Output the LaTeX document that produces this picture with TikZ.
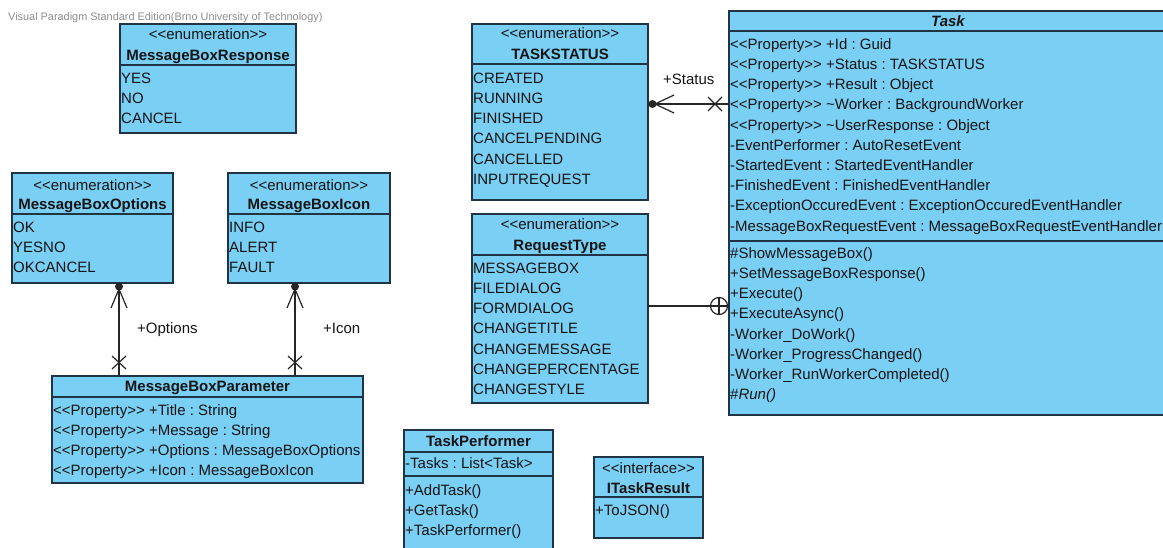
\documentclass[tikz,border=0pt]{standalone}
\usepackage{fontspec}
\newfontfamily\umlfont{Liberation Sans}
\definecolor{umlfill}{RGB}{122,207,245}
\definecolor{umlline}{RGB}{32,52,70}
\definecolor{wmgray}{RGB}{140,140,140}
\frenchspacing

\tikzset{
  clsbox/.style={draw=umlline, fill=umlfill, line width=1.3pt, inner sep=0pt, outer sep=0pt, anchor=north west},
  sepline/.style={draw=umlline, line width=1.3pt},
  item/.style={anchor=base west, inner sep=0pt, text=black!92, font=\umlfont\fontsize{15}{17}\selectfont},
  stereo/.style={anchor=base, inner sep=0pt, text=black!92, font=\umlfont\fontsize{15}{17}\selectfont},
  cname/.style={anchor=base, inner sep=0pt, text=black!92, font=\umlfont\bfseries\fontsize{15}{17}\selectfont},
  assoc/.style={draw=black!85, line width=1.2pt},
  rolelabel/.style={anchor=base west, inner sep=0pt, text=black!92, font=\umlfont\fontsize{15}{17}\selectfont},
}

% class frame: name, x, y (top left), width, height
\newcommand\umlclass[5]{\node[clsbox, minimum width=#4pt, minimum height=#5pt] (#1) at (#2,#3) {};}
% compartment separator at row y
\newcommand\umlsep[2]{\draw[sepline] (#1.west |- 0,#2) -- (#1.east |- 0,#2);}
% list of rows: class name, left x, centre y of first row, rows
\newcommand\umlitems[4]{%
  \foreach \lbl [count=\k] in {#4}{\node[item] (#1-\k) at (#2, {#3+5.3+20.2*(\k-1)}) {\lbl};}}

\begin{document}
\begin{tikzpicture}[x=1pt, y=-1pt]
\useasboundingbox (0,0) rectangle (1163,547);
\clip (0,0) rectangle (1163,547);

\node[anchor=base west, inner sep=0pt, text=wmgray, font=\umlfont\fontsize{10.9}{12}\selectfont] (wm) at (8,20.5)
  {Visual Paradigm Standard Edition(Brno University of Technology)};

% ---------- class frames ----------
\umlclass{resp}{120}{24}{176}{109}
\umlclass{opts}{12}{173}{161}{110}
\umlclass{icon}{228}{173}{162}{110}
\umlclass{params}{52}{376}{311}{107}
\umlclass{taskstatus}{472}{24}{176}{176}
\umlclass{reqtype}{472}{214}{176}{189}
\umlclass{task}{729}{11}{438}{404}
\umlclass{performer}{404}{430}{149}{130}
\umlclass{itask}{594}{457}{109}{81}

\umlsep{resp}{65}
\umlsep{opts}{214}
\umlsep{icon}{214}
\umlsep{params}{397}
\umlsep{taskstatus}{64}
\umlsep{reqtype}{255}
\umlsep{task}{31}
\umlsep{task}{241}
\umlsep{performer}{452}
\umlsep{performer}{476}
\umlsep{itask}{497}

% ---------- headers ----------
\node[stereo] (resp-st) at (208,39.3) {<<enumeration>>};
\node[cname] (resp-nm) at (208,60.3) {MessageBoxResponse};
\node[stereo] (opts-st) at (92.5,190.3) {<<enumeration>>};
\node[cname] (opts-nm) at (92.5,209.3) {MessageBoxOptions};
\node[stereo] (icon-st) at (309,190.3) {<<enumeration>>};
\node[cname] (icon-nm) at (309,209.3) {MessageBoxIcon};
\node[cname] (params-nm) at (207.5,391.3) {MessageBoxParameter};
\node[stereo] (taskstatus-st) at (560,38.3) {<<enumeration>>};
\node[cname] (taskstatus-nm) at (560,59.3) {TASKSTATUS};
\node[stereo] (reqtype-st) at (560,229.3) {<<enumeration>>};
\node[cname] (reqtype-nm) at (560,250.3) {RequestType};
\node[cname, font=\umlfont\bfseries\itshape\fontsize{15}{17}\selectfont] (task-nm) at (948,26.3) {Task};
\node[cname] (performer-nm) at (478.5,446.3) {TaskPerformer};
\node[stereo] (itask-st) at (648.5,473.3) {<<interface>>};
\node[cname] (itask-nm) at (648.5,493.3) {ITaskResult};

% ---------- rows ----------
\umlitems{resp}{121}{78}{YES,NO,CANCEL}
\umlitems{opts}{13}{227}{OK,YESNO,OKCANCEL}
\umlitems{icon}{229}{227}{INFO,ALERT,FAULT}
\umlitems{params}{53}{410}{%
  <<Property>> +Title : String,
  <<Property>> +Message : String,
  <<Property>> +Options : MessageBoxOptions,
  <<Property>> +Icon : MessageBoxIcon}
\umlitems{taskstatus}{473}{78}{CREATED,RUNNING,FINISHED,CANCELPENDING,CANCELLED,INPUTREQUEST}
\umlitems{reqtype}{473}{268}{MESSAGEBOX,FILEDIALOG,FORMDIALOG,CHANGETITLE,CHANGEMESSAGE,CHANGEPERCENTAGE,CHANGESTYLE}
\umlitems{task}{730}{44}{%
  <<Property>> +Id : Guid,
  <<Property>> +Status : TASKSTATUS,
  <<Property>> +Result : Object,
  <<Property>> \textasciitilde Worker : BackgroundWorker,
  <<Property>> \textasciitilde UserResponse : Object,
  -EventPerformer : AutoResetEvent,
  -StartedEvent : StartedEventHandler,
  -FinishedEvent : FinishedEventHandler,
  -ExceptionOccuredEvent : ExceptionOccuredEventHandler,
  -MessageBoxRequestEvent : MessageBoxRequestEventHandler}
\umlitems{taskop}{730}{253}{%
  \#ShowMessageBox(),
  +SetMessageBoxResponse(),
  +Execute(),
  +ExecuteAsync(),
  -Worker\_DoWork(),
  -Worker\_ProgressChanged(),
  -Worker\_RunWorkerCompleted(),
  {\#\textit{Run()}}}
\umlitems{performer}{405}{463}{-Tasks : List<Task>}
\umlitems{performerop}{405}{490}{+AddTask(),+GetTask(),+TaskPerformer()}
\umlitems{itask}{595}{510}{+ToJSON()}

% ---------- associations ----------
% Task -> TASKSTATUS
\coordinate (st-a) at (taskstatus.east |- 0,104);
\coordinate (st-b) at (task.west |- 0,104);
\draw[assoc] (st-b) -- (st-a);
\fill[black!85] (st-a) ++(4.5,0) circle (4pt);
\draw[assoc] (st-a) ++(26,-9) -- ++(-19,9) -- ++(19,9);
\draw[assoc] (st-b) ++(-21,-7) -- ++(14,14) ++(0,-14) -- ++(-14,14);
\node[rolelabel] (st-role) at (663,84.3) {+Status};

% MessageBoxParameter -> MessageBoxOptions
\coordinate (op-a) at (119,0 |- opts.south);
\coordinate (op-b) at (119,0 |- params.north);
\draw[assoc] (op-b) -- (op-a);
\fill[black!85] (op-a) ++(0,3.5) circle (4pt);
\draw[assoc] (op-a) ++(-8,25) -- ++(8,-19) -- ++(8,19);
\draw[assoc] (op-b) ++(-7,-20) -- ++(14,13) ++(0,-13) -- ++(-14,13);
\node[rolelabel] (op-role) at (137,333.3) {+Options};

% MessageBoxParameter -> MessageBoxIcon
\coordinate (ic-a) at (295,0 |- icon.south);
\coordinate (ic-b) at (295,0 |- params.north);
\draw[assoc] (ic-b) -- (ic-a);
\fill[black!85] (ic-a) ++(0,3.5) circle (4pt);
\draw[assoc] (ic-a) ++(-8,25) -- ++(8,-19) -- ++(8,19);
\draw[assoc] (ic-b) ++(-7,-20) -- ++(14,13) ++(0,-13) -- ++(-14,13);
\node[rolelabel] (ic-role) at (323,333.3) {+Icon};

% RequestType nested in Task
\coordinate (rt-a) at (reqtype.east |- 0,306);
\coordinate (rt-b) at (task.west |- 0,306);
\draw[assoc] (rt-a) -- (rt-b);
\draw[assoc] (rt-b) ++(-10,0) circle (8.5pt);
\draw[assoc] (rt-b) ++(-10,-8.5) -- ++(0,17);
\end{tikzpicture}
\end{document}
